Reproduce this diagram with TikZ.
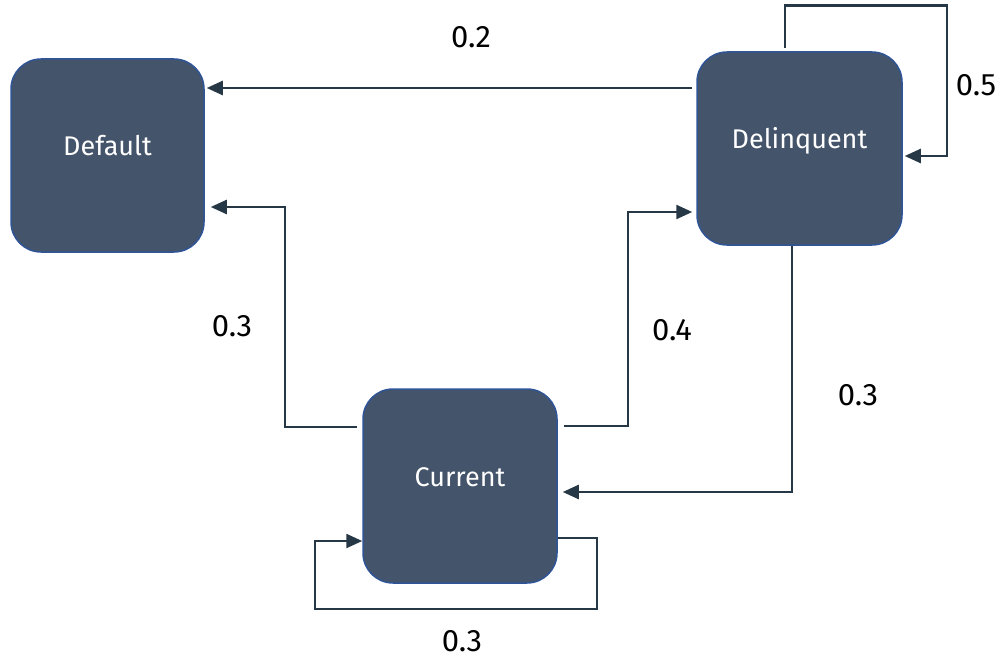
\documentclass[tikz,border=0pt]{standalone}
\usepackage{fontspec}
\setmainfont{Fira Sans}
\usetikzlibrary{arrows.meta}
\definecolor{boxfill}{HTML}{44546A}
\definecolor{boxline}{HTML}{2F5597}
\definecolor{conncol}{HTML}{263746}
\tikzset{
  statebox/.style={draw=boxline, line width=1.5pt, fill=boxfill, rounded corners=30pt,
    text=white, font=\fontsize{27}{32}\selectfont, inner sep=0pt},
  conn/.style={draw=conncol, line width=2.4pt},
  arr/.style={conn, -{Triangle[length=16pt,width=14pt]}},
  problabel/.style={text=black, font=\fontsize{31}{36}\selectfont}
}
\begin{document}
\begin{tikzpicture}[x=1pt,y=-1pt]
\useasboundingbox (0,0) rectangle (1005,658);
\node[statebox, minimum width=193pt, minimum height=193pt] (def) at (107.5,155.5) {\smash{Default}};
\node[statebox, minimum width=205pt, minimum height=193pt] (del) at (799.5,148.5) {\smash{Delinquent}};
\node[statebox, minimum width=194pt, minimum height=194pt] (cur) at (460,486) {\smash{Current}};

% Delinquent -> Default
\draw[arr] ([xshift=-4pt]del.west |- 0,88) -- ([xshift=2pt]def.east |- 0,88);
% Delinquent self loop
\draw[arr] (del.north -| 785,0) ++(0,-3) |- (947,5.5) |- ([xshift=2pt]del.east |- 0,156);
% Current -> Default
\draw[arr] ([xshift=-5pt]cur.west |- 0,427) -| (285,207) -- ([xshift=6pt]def.east |- 0,207);
% Current -> Delinquent
\draw[arr] ([xshift=6pt]cur.east |- 0,426) -| (628,212) -- ([xshift=-4pt]del.west |- 0,212);
% Delinquent -> Current
\draw[arr] (del.south -| 792,0) |- ([xshift=5pt]cur.east |- 0,492);
% Current self loop
\draw[arr] (cur.east |- 0,538) -- (597,538) |- (315,609) |- (cur.west |- 0,541);

\node[problabel] (l1) at (471,37) {0.2};
\node[problabel] (l2) at (976,85) {0.5};
\node[problabel] (l3) at (232,326) {0.3};
\node[problabel] (l4) at (672,330) {0.4};
\node[problabel] (l5) at (858,395) {0.3};
\node[problabel] (l6) at (462,641) {0.3};
\end{tikzpicture}
\end{document}
